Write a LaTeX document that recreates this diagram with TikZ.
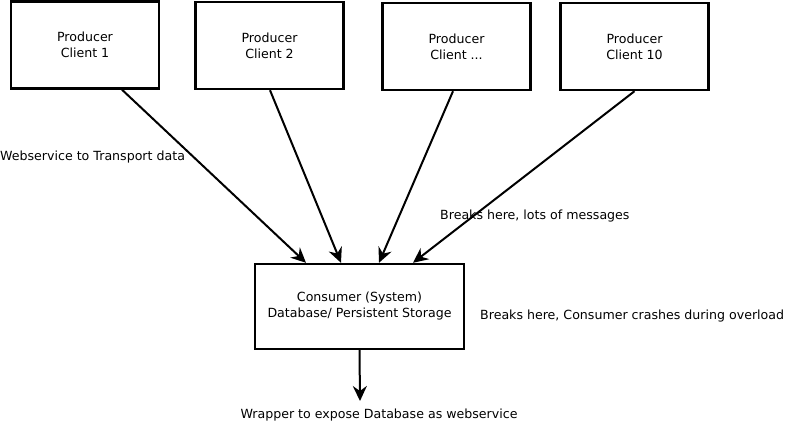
\documentclass[tikz,border=0pt]{standalone}
\usepackage{fontspec}
\setmainfont{DejaVu Sans}
\usepackage{tikz}
\usetikzlibrary{positioning,arrows.meta}

\begin{document}
\begin{tikzpicture}[
  x=1pt, y=-1pt,
  every node/.style={font=\fontsize{12.6}{16}\selectfont, align=center},
  box/.style={draw, line width=2.4pt, minimum width=148pt, minimum height=87pt, inner sep=0pt},
  lab/.style={inner sep=0pt, anchor=west},
  flow/.style={line width=2pt, -{Stealth[length=15pt,width=14pt,inset=5pt]}}
]
\useasboundingbox (0,0) rectangle (789,424);

% producers
\node[box] (p1) at (85,45) {Producer\\Client 1};
\node[box] (p2) at (269.5,45.5) {Producer\\Client 2};
\node[box] (p3) at (456.5,46.5) {Producer\\Client ...};
\node[box] (p4) at (634.5,46.5) {Producer\\Client 10};

% consumer
\node[box, minimum width=209pt, minimum height=85pt] (cons) at (359.5,306.5)
  {Consumer (System)\\Database/ Persistent Storage};

% texts
\node[lab] (ws) at (0,157) {Webservice to Transport data};
\node[lab] (brk1) at (440,216) {Breaks here, lots of messages};
\node[lab] (brk2) at (480,316) {Breaks here, Consumer crashes during overload};
\node[lab, anchor=center] (wrap) at (379,415) {Wrapper to expose Database as webservice};
\coordinate (out) at (360,401);

\draw[flow] ([xshift=37pt]p1.south) -- ([xshift=-53.5pt]cons.north);
\draw[flow] ([xshift=0.5pt]p2.south) -- ([xshift=-18.5pt]cons.north);
\draw[flow] ([xshift=-3.5pt]p3.south) -- ([xshift=19.5pt]cons.north);
\draw[flow] (p4.south) -- ([xshift=53.5pt]cons.north);
\draw[flow] (cons.south) -- (out);
\end{tikzpicture}
\end{document}
